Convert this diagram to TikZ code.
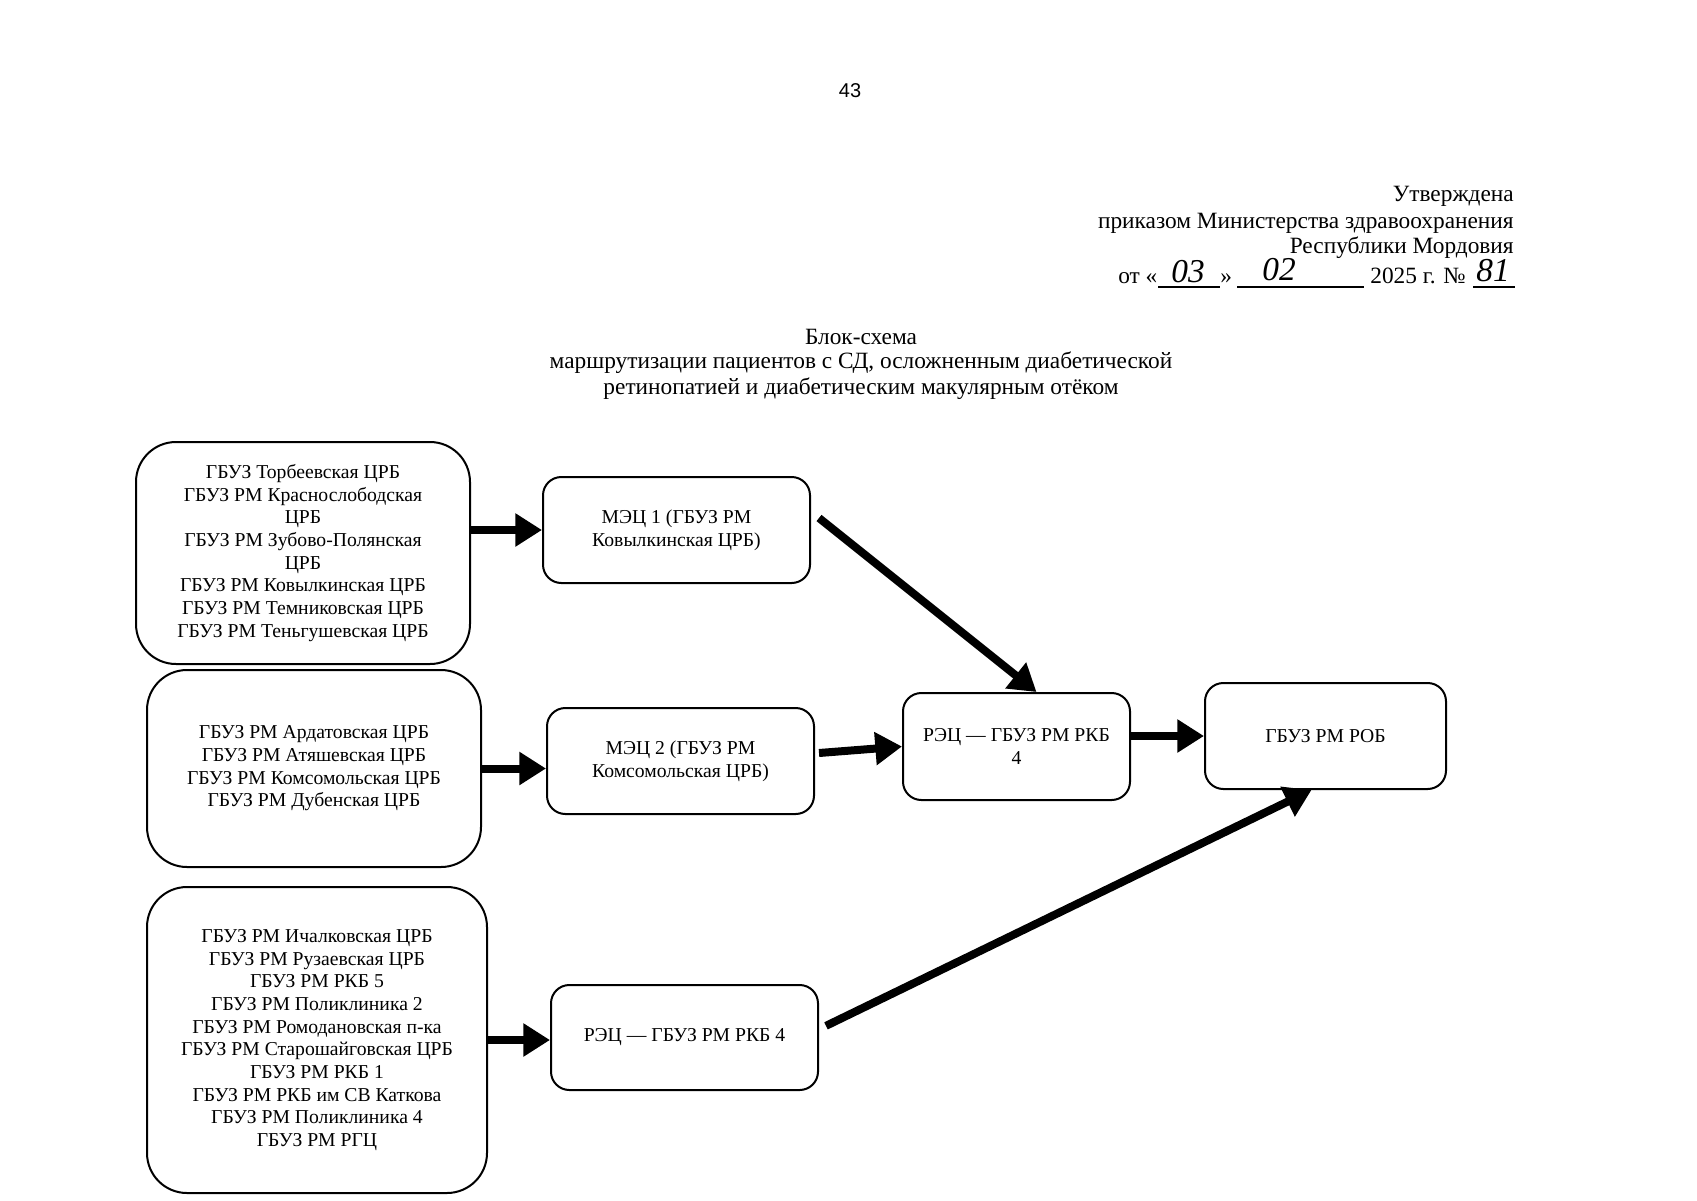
\documentclass[tikz,border=0pt]{standalone}
\usepackage{fontspec}
\setmainfont{Liberation Serif}
\newfontfamily\pnfont{Liberation Sans}
\usetikzlibrary{arrows.meta}
\begin{document}
\begin{tikzpicture}[x=0.6pt,y=-0.6pt,
  bigbox/.style={draw,line width=1.2pt,rounded corners=24pt,align=center,inner sep=0pt,font=\fontsize{11.8}{13.6}\selectfont},
  midbox/.style={draw,line width=1.2pt,rounded corners=11pt,align=center,inner sep=0pt,font=\fontsize{11.8}{13.8}\selectfont},
  arr/.style={line width=4.8pt,-{Triangle[length=16pt,width=19pt]}},
  hdr/.style={font=\fontsize{14}{15.6}\selectfont,inner sep=0pt},
  hand/.style={font=\fontsize{20}{20}\selectfont\itshape,inner sep=0pt},
  uline/.style={line width=0.7pt}]
\useasboundingbox (0,0) rectangle (1697,1200);
\fill[white] (0,0) rectangle (1697,1200);
% page number
\node[font=\pnfont\fontsize{12}{12}\selectfont,inner sep=0pt] (pn) at (850,91) {43};
% approval header
\node[hdr,anchor=base east] (h1) at (1514,201) {Утверждена};
\node[hdr,anchor=base east] (h2) at (1514,228) {приказом Министерства здравоохранения};
\node[hdr,anchor=base east] (h3) at (1514,253) {Республики Мордовия};
\node[hdr,anchor=base west] (d1) at (1118,283) {от «};
\coordinate (u1a) at (1158,287); \coordinate (u1b) at (1220,287);
\draw[uline] (u1a) -- (u1b);
\node[hand,anchor=base] (d2) at (1188,282) {03};
\node[hdr,anchor=base west] (d3) at (1220,283) {»};
\coordinate (u2a) at (1237,287); \coordinate (u2b) at (1364,287);
\draw[uline] (u2a) -- (u2b);
\node[hand,anchor=base] (d4) at (1279,280) {02};
\node[hdr,anchor=base west] (d5) at (1370,283) {2025 г. №};
\coordinate (u3a) at (1473,287); \coordinate (u3b) at (1515,287);
\draw[uline] (u3a) -- (u3b);
\node[hand,anchor=base] (d6) at (1493,281) {81};
% title
\node[hdr,anchor=base] (t1) at (861,344) {Блок-схема};
\node[hdr,anchor=base] (t2) at (861,368) {маршрутизации пациентов с СД, осложненным диабетической};
\node[hdr,anchor=base] (t3) at (861,394) {ретинопатией и диабетическим макулярным отёком};
% boxes
\node[bigbox,minimum width=200.4pt,minimum height=133.2pt] (A) at (303,553)
  {ГБУЗ Торбеевская ЦРБ\\ГБУЗ РМ Краснослободская\\ЦРБ\\ГБУЗ РМ Зубово-Полянская\\ЦРБ\\ГБУЗ РМ Ковылкинская ЦРБ\\ГБУЗ РМ Темниковская ЦРБ\\ГБУЗ РМ Теньгушевская ЦРБ};
\node[bigbox,minimum width=200.4pt,minimum height=118.2pt] (B) at (314,768.5)
  {ГБУЗ РМ Ардатовская ЦРБ\\ГБУЗ РМ Атяшевская ЦРБ\\ГБУЗ РМ Комсомольская ЦРБ\\ГБУЗ РМ Дубенская ЦРБ};
\node[bigbox,minimum width=204pt,minimum height=183.6pt] (C) at (317,1040)
  {ГБУЗ РМ Ичалковская ЦРБ\\ГБУЗ РМ Рузаевская ЦРБ\\ГБУЗ РМ РКБ 5\\ГБУЗ РМ Поликлиника 2\\ГБУЗ РМ Ромодановская п-ка\\ГБУЗ РМ Старошайговская ЦРБ\\ГБУЗ РМ РКБ 1\\ГБУЗ РМ РКБ им СВ Каткова\\ГБУЗ РМ Поликлиника 4\\ГБУЗ РМ РГЦ};
\node[midbox,minimum width=160.2pt,minimum height=63.6pt] (M1) at (676.5,530)
  {МЭЦ 1 (ГБУЗ РМ\\Ковылкинская ЦРБ)};
\node[midbox,minimum width=160.2pt,minimum height=63.6pt] (M2) at (680.5,761)
  {МЭЦ 2 (ГБУЗ РМ\\Комсомольская ЦРБ)};
\node[midbox,minimum width=160.2pt,minimum height=63pt] (RC) at (684.5,1037.5)
  {РЭЦ — ГБУЗ РМ РКБ 4};
\node[midbox,minimum width=136.2pt,minimum height=64.2pt] (R) at (1016.5,746.5)
  {РЭЦ — ГБУЗ РМ РКБ\\4};
\node[midbox,minimum width=144.6pt,minimum height=63.6pt] (ROB) at (1325.5,736)
  {ГБУЗ РМ РОБ};
% arrows
\draw[arr] (A.east |- M1.west) -- (M1.west);
\draw[arr] (B.east) -- (B.east -| M2.west);
\draw[arr] (C.east) -- (C.east -| RC.west);
\draw[arr] ([xshift=4.8pt,yshift=7.2pt]M1.east) -- ([xshift=12pt]R.north);
\draw[arr] ([xshift=2.4pt,yshift=4.8pt]M2.east) -- (R.west);
\draw[arr] (R.east |- ROB.west) -- (ROB.west);
\draw[arr] ([xshift=4.2pt,yshift=7pt]RC.east) -- ([xshift=-8.4pt]ROB.south);
\end{tikzpicture}
\end{document}
